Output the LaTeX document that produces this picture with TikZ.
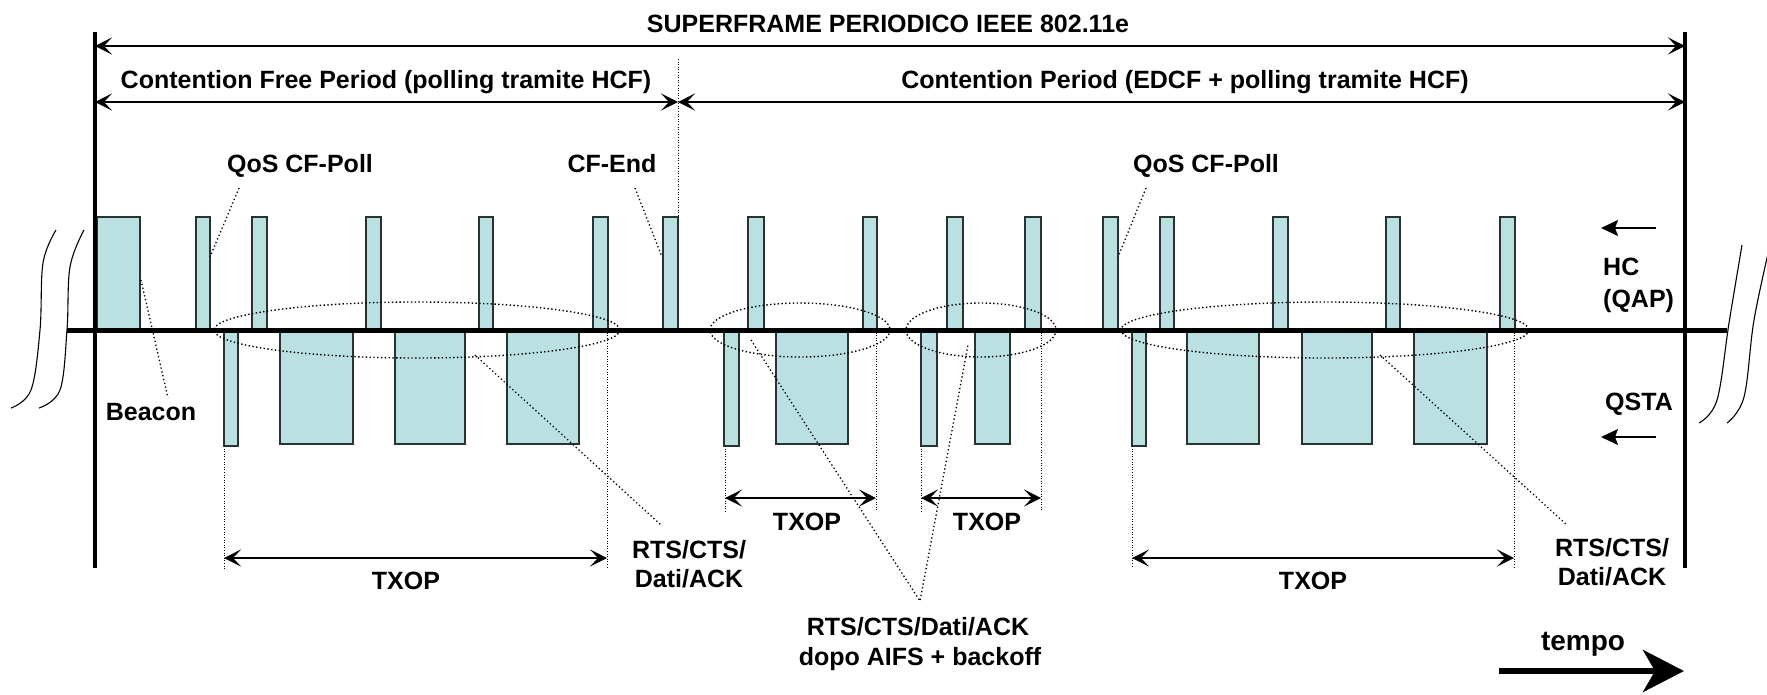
\documentclass[tikz,border=0pt]{standalone}
\usepackage{fontspec}
\setmainfont{Liberation Sans}
\usetikzlibrary{arrows.meta}
\definecolor{boxfill}{RGB}{186,224,226}
\definecolor{boxline}{RGB}{40,52,52}
\begin{document}
\begin{tikzpicture}[x=1pt,y=-1pt,
  pkt/.style={draw=boxline,fill=boxfill,line width=1.5pt},
  dimarrow/.style={line width=1.6pt,{Stealth[length=17pt,width=17pt,inset=8pt]}-{Stealth[length=17pt,width=17pt,inset=8pt]}},
  leader/.style={line width=1.3pt,dash pattern=on 1.3pt off 2.6pt},
  guide/.style={line width=1pt,dash pattern=on 1pt off 1.6pt},
  oval/.style={line width=1.4pt,dash pattern=on 1.4pt off 2.4pt},
  brk/.style={line width=1.1pt},
  lbl/.style={font=\fontsize{25}{29}\selectfont\bfseries,inner sep=0pt,anchor=base},
  sidearrow/.style={line width=1.3pt,{Stealth[length=17pt,width=16pt,inset=3pt]}-}]
\useasboundingbox (0,0) rectangle (1767,694);

% ---------- coordinates of the frame ----------
\coordinate (LT) at (95,32);   \coordinate (LB) at (95,568);
\coordinate (RT) at (1685,32); \coordinate (RB) at (1685,568);
\coordinate (SFL) at (95,46);  \coordinate (SFR) at (1685,46);
\coordinate (CFL) at (95,102); \coordinate (CFM) at (678,102); \coordinate (CFR) at (1685,102);
\coordinate (AXL) at (67,330); \coordinate (AXR) at (1727,330);
\coordinate (BDT) at (678,59); \coordinate (BDB) at (678,217);

% ---------- packets (HC, above the axis) ----------
\foreach \a/\b in {97/140,196/210,252/267,366/381,479/493,593/608,663/678,748/764,863/877,947/963,1025/1041,1103/1118,1160/1174,1273/1288,1386/1400,1500/1515}
  \draw[pkt] (\a,217) rectangle (\b,330);
% ---------- packets (QSTA, below the axis) ----------
\foreach \a/\b in {224/238,724/739,921/937,1132/1146}
  \draw[pkt] (\a,330) rectangle (\b,446);
\foreach \a/\b in {280/353,395/465,507/579,776/848,975/1010,1187/1259,1302/1372,1414/1487}
  \draw[pkt] (\a,330) rectangle (\b,444);

% ---------- dotted ovals ----------
\draw[oval] (417,330) ellipse [x radius=203,y radius=28];
\draw[oval] (800,330) ellipse [x radius=90,y radius=27];
\draw[oval] (981,330) ellipse [x radius=75,y radius=27];
\draw[oval] (1325,330) ellipse [x radius=204,y radius=28];

% ---------- axis and frame lines ----------
\draw[line width=5pt] (AXL) -- (AXR);
\draw[line width=4pt] (LT) -- (LB);
\draw[line width=4pt] (RT) -- (RB);

% ---------- period arrows ----------
\draw[dimarrow] (SFL) -- (SFR);
\draw[dimarrow] (CFL) -- (CFM);
\draw[dimarrow] (CFM) -- (CFR);
\draw[guide] (BDT) -- (BDB);

% ---------- TXOP guides and arrows ----------
\coordinate (T1a) at (224,446); \coordinate (T1b) at (224,569);
\coordinate (T1c) at (607,330); \coordinate (T1d) at (607,569);
\coordinate (T1l) at (224,558); \coordinate (T1r) at (607,558);
\draw[guide] (T1a) -- (T1b); \draw[guide] (T1c) -- (T1d);
\draw[dimarrow] (T1l) -- (T1r);

\coordinate (T2a) at (725,446); \coordinate (T2b) at (725,512);
\coordinate (T2c) at (876,330); \coordinate (T2d) at (876,512);
\coordinate (T2l) at (725,498); \coordinate (T2r) at (876,498);
\draw[guide] (T2a) -- (T2b); \draw[guide] (T2c) -- (T2d);
\draw[dimarrow] (T2l) -- (T2r);

\coordinate (T3a) at (921,446); \coordinate (T3b) at (921,512);
\coordinate (T3c) at (1041,330); \coordinate (T3d) at (1041,512);
\coordinate (T3l) at (921,498); \coordinate (T3r) at (1041,498);
\draw[guide] (T3a) -- (T3b); \draw[guide] (T3c) -- (T3d);
\draw[dimarrow] (T3l) -- (T3r);

\coordinate (T4a) at (1132,446); \coordinate (T4b) at (1132,568);
\coordinate (T4c) at (1514,330); \coordinate (T4d) at (1514,568);
\coordinate (T4l) at (1132,558); \coordinate (T4r) at (1514,558);
\draw[guide] (T4a) -- (T4b); \draw[guide] (T4c) -- (T4d);
\draw[dimarrow] (T4l) -- (T4r);

% ---------- labels ----------
\node[lbl] (title) at (888,32) {SUPERFRAME PERIODICO IEEE 802.11e};
\node[lbl] (cfp) at (386,88) {Contention Free Period (polling tramite HCF)};
\node[lbl] (cp) at (1185,88) {Contention Period (EDCF + polling tramite HCF)};
\node[lbl] (poll1) at (300,172) {QoS CF-Poll};
\node[lbl] (cfend) at (612,172) {CF-End};
\node[lbl] (poll2) at (1206,172) {QoS CF-Poll};
\node[lbl] (beacon) at (151,420) {Beacon};
\node[lbl] (tx1) at (406,589) {TXOP};
\node[lbl] (tx2) at (807,530) {TXOP};
\node[lbl] (tx3) at (987,530) {TXOP};
\node[lbl] (tx4) at (1313,589) {TXOP};
\node[lbl] (rtsA1) at (689,558) {RTS/CTS/};
\node[lbl] (rtsA2) at (689,587) {Dati/ACK};
\node[lbl] (rtsB1) at (1612,556) {RTS/CTS/};
\node[lbl] (rtsB2) at (1612,585) {Dati/ACK};
\node[lbl] (rtsC1) at (918,635) {RTS/CTS/Dati/ACK};
\node[lbl] (rtsC2) at (920,665) {dopo AIFS + backoff};
\node[lbl,anchor=base west] (hc1) at (1603,275) {HC};
\node[lbl,anchor=base west] (hc2) at (1603,307) {(QAP)};
\node[lbl,anchor=base west] (qsta) at (1605,410) {QSTA};
\node[lbl,font=\fontsize{28}{32}\selectfont\bfseries] (tempo) at (1583,650) {tempo};

% ---------- leaders ----------
\coordinate (p1a) at (239,188); \coordinate (p1b) at (210,257);
\coordinate (cea) at (635,188); \coordinate (ceb) at (662,257);
\coordinate (p2a) at (1146,188); \coordinate (p2b) at (1118,257);
\coordinate (bea) at (141,280); \coordinate (beb) at (168,398);
\coordinate (ra) at (475,355); \coordinate (rb) at (661,525);
\coordinate (rc) at (1380,355); \coordinate (rd) at (1567,525);
\coordinate (mid) at (920,601); \coordinate (me) at (751,340); \coordinate (mf) at (968,345);
\draw[leader] (p1a) -- (p1b);
\draw[leader] (cea) -- (ceb);
\draw[leader] (p2a) -- (p2b);
\draw[leader] (bea) -- (beb);
\draw[leader] (ra) -- (rb);
\draw[leader] (rc) -- (rd);
\draw[leader] (me) -- (mid) -- (mf);

% ---------- direction arrows ----------
\coordinate (hcA) at (1601,228); \coordinate (hcB) at (1656,228);
\coordinate (qsA) at (1601,437); \coordinate (qsB) at (1656,437);
\draw[sidearrow] (hcA) -- (hcB);
\draw[sidearrow] (qsA) -- (qsB);
\coordinate (tmA) at (1499,671); \coordinate (tmB) at (1684,671);
\draw[line width=6pt,-{Stealth[length=41pt,width=42pt,inset=12pt]}] (tmA) -- (tmB);

% ---------- break marks ----------
\draw[brk] plot[smooth,tension=0.6] coordinates {(56,230) (43,263) (40,330) (31,390) (11,408)};
\draw[brk] plot[smooth,tension=0.6] coordinates {(84,230) (70,267) (67,330) (60,390) (39,408)};
\draw[brk] plot[smooth,tension=0.6] coordinates {(1742,245) (1729,323) (1717,400) (1699,423)};
\draw[brk] plot[smooth,tension=0.6] coordinates {(1770,245) (1754,320) (1744,397) (1727,423)};
\end{tikzpicture}
\end{document}
